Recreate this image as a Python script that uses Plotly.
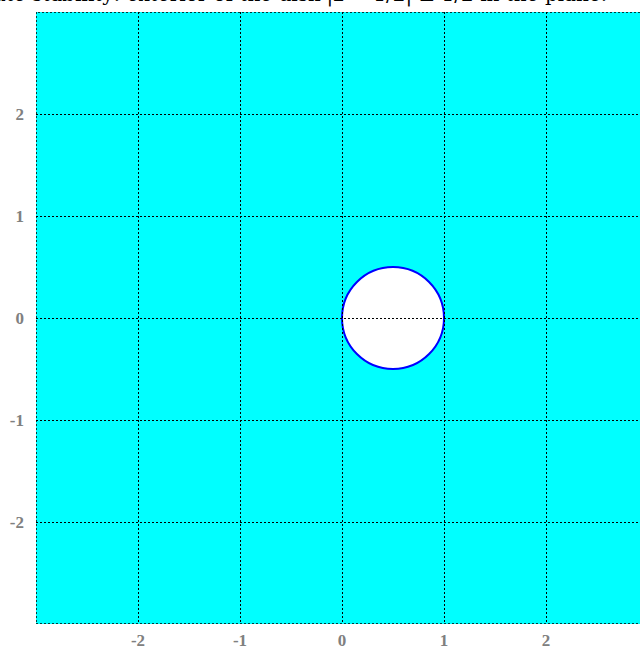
import plotly.graph_objects as go

# Axis extent and tick positions
axis_min = -3.0
axis_max = 3.0
tick_values = [-2, -1, 0, 1, 2]
tick_labels = ["-2", "-1", "0", "1", "2"]

# Excluded disk: centre and radius in the complex plane
disk_center = [0.5, 0.0]
disk_radius = 0.5

title_text = "Absolute stability: exterior of the disk |z − 1/2| ≤ 1/2 in the plane."

W, H = 640, 651
left, top, bottom = 36, 12, 27
px_per_unit = (H - top - bottom) / (axis_max - axis_min)
x_right = axis_min + (W - left) / px_per_unit

fig = go.Figure()

# Disk boundary and white interior
fig.add_shape(
    type="circle", xref="x", yref="y",
    x0=disk_center[0] - disk_radius, x1=disk_center[0] + disk_radius,
    y0=disk_center[1] - disk_radius, y1=disk_center[1] + disk_radius,
    fillcolor="white", line=dict(color="blue", width=2), layer="below",
)

# Dotted frame around the plotting region
fig.add_shape(
    type="rect", xref="x", yref="y",
    x0=axis_min, x1=axis_max, y0=axis_min, y1=axis_max,
    line=dict(color="black", width=1.5, dash="2px,2px"), fillcolor="rgba(0,0,0,0)",
    layer="above",
)

tick_font = dict(family="Liberation Serif", size=17, color="#808080", weight="bold")
axis_common = dict(
    tickvals=tick_values, ticktext=tick_labels,
    showgrid=True, gridcolor="black", gridwidth=1, griddash="2px,2px",
    zeroline=False, showline=False, ticks="", tickfont=tick_font,
    automargin=False,
)

fig.update_xaxes(range=[axis_min, x_right], ticklabelstandoff=4, **axis_common)
fig.update_yaxes(range=[axis_min, axis_max], ticklabelstandoff=11, **axis_common)

# Title text sitting above the plotting region
fig.add_annotation(
    text=title_text, xref="paper", yref="paper", x=0.39, y=1.0,
    xanchor="center", yanchor="bottom", yshift=3, showarrow=False,
    font=dict(family="DejaVu Serif", size=20, color="black"),
)

fig.update_layout(
    width=W, height=H,
    margin=dict(l=left, r=0, t=top, b=bottom, pad=0),
    plot_bgcolor="cyan", paper_bgcolor="white",
    showlegend=False,
)

fig.write_html("out.html")
